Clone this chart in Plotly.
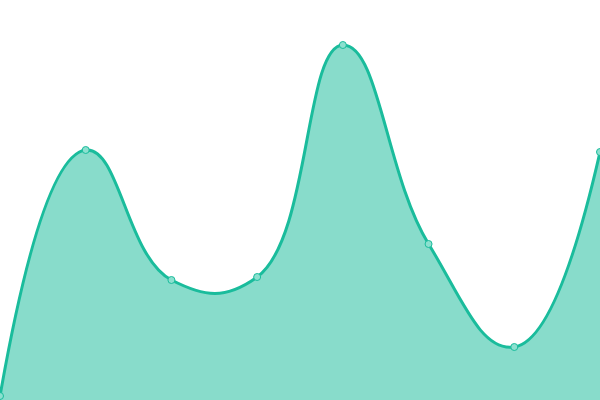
import plotly.graph_objects as go

x_vals = [0, 1, 2, 3, 4, 5, 6, 7]
y_vals = [4, 250, 120, 123, 355, 156, 53, 248]

fig = go.Figure()
fig.add_trace(go.Scatter(
    x=x_vals, y=y_vals,
    mode="lines+markers",
    line=dict(shape="spline", smoothing=1.3, color="#1abc9c", width=3),
    fill="tozeroy",
    fillcolor="rgba(26,188,156,0.52)",
    marker=dict(size=7, color="#8ce0cf", line=dict(color="#1abc9c", width=1)),
    cliponaxis=False,
    hoverinfo="skip",
))
fig.update_layout(
    width=600, height=400,
    margin=dict(l=0, r=0, t=0, b=0),
    paper_bgcolor="white", plot_bgcolor="white",
    showlegend=False,
    xaxis=dict(visible=False, range=[0, 7], fixedrange=True),
    yaxis=dict(visible=False, range=[0, 400], fixedrange=True),
)
fig.write_html("out.html", config={"displayModeBar": False},
               post_script="document.body.style.margin='0';document.body.style.overflow='hidden';")
